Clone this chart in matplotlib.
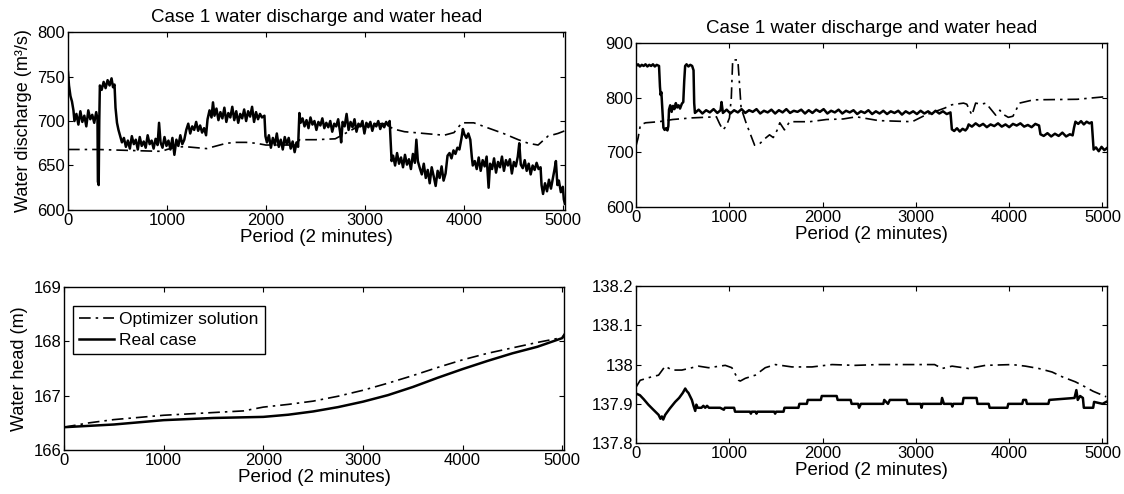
import numpy as np
import matplotlib
matplotlib.use("Agg")
import matplotlib.pyplot as plt
from matplotlib.ticker import FormatStrFormatter

# ---- top left: water discharge, case A ----
tl_real_t = [0, 10, 25, 40, 55, 65, 85, 105, 125, 145, 165, 185, 205, 225, 245, 265, 285, 298, 302, 310,
             316, 322, 340, 360, 380, 400, 420, 440, 455, 470, 480, 495, 510, 525, 545, 565, 585, 605, 625,
             645, 665, 685, 705, 725, 745, 765, 785, 805, 825, 845, 865, 885, 905, 920, 935, 955, 975, 995,
             1015, 1035, 1055, 1075, 1095, 1115, 1135, 1155, 1175, 1195, 1215, 1235, 1255, 1275, 1295, 1315,
             1335, 1355, 1375, 1395, 1410, 1430, 1450, 1465, 1480, 1500, 1520, 1540, 1560, 1580, 1600, 1620,
             1640, 1660, 1680, 1700, 1720, 1740, 1760, 1780, 1800, 1820, 1840, 1860, 1880, 1900, 1920, 1940,
             1960, 1985, 1995, 2010, 2030, 2050, 2070, 2090, 2110, 2130, 2150, 2170, 2190, 2210, 2230, 2250,
             2270, 2290, 2310, 2325, 2338, 2350, 2370, 2390, 2410, 2430, 2450, 2470, 2490, 2510, 2530, 2550,
             2570, 2590, 2610, 2630, 2650, 2670, 2690, 2710, 2730, 2750, 2760, 2775, 2795, 2815, 2835, 2855,
             2875, 2895, 2915, 2935, 2955, 2975, 2995, 3015, 3035, 3055, 3075, 3095, 3115, 3135, 3155, 3175,
             3195, 3215, 3235, 3250, 3262, 3270, 3285, 3305, 3325, 3345, 3365, 3385, 3405, 3425, 3445, 3465,
             3485, 3505, 3520, 3535, 3555, 3575, 3595, 3615, 3635, 3655, 3675, 3695, 3715, 3735, 3755, 3775,
             3795, 3815, 3835, 3855, 3875, 3895, 3915, 3935, 3955, 3975, 3990, 4005, 4025, 4045, 4065, 4080,
             4090, 4110, 4130, 4150, 4170, 4190, 4210, 4230, 4250, 4265, 4285, 4305, 4325, 4345, 4365, 4385,
             4405, 4425, 4445, 4465, 4485, 4505, 4525, 4545, 4560, 4575, 4595, 4615, 4635, 4655, 4675, 4695,
             4715, 4735, 4755, 4775, 4785, 4800, 4820, 4840, 4860, 4880, 4900, 4915, 4930, 4945, 4960, 4980,
             5000, 5010, 5020]
tl_real_q = [755, 740, 728, 722, 712, 700, 708, 696, 711, 699, 706, 694, 712, 702, 707, 698, 710, 702, 632, 628,
             700, 740, 735, 744, 737, 746, 740, 748, 738, 741, 715, 698, 690, 684, 676, 681, 671, 678, 669,
             683, 674, 679, 668, 682, 672, 677, 670, 684, 674, 678, 669, 680, 673, 698, 676, 670, 682, 672,
             678, 668, 681, 662, 679, 672, 684, 674, 679, 690, 697, 686, 694, 690, 699, 689,
             695, 687, 692, 684, 702, 712, 704, 721, 706, 714, 701, 710, 703, 715, 699, 709,
             704, 716, 701, 711, 698, 708, 703, 713, 700, 711, 705, 716, 699, 710, 702, 708,
             704, 706, 683, 676, 684, 670, 681, 673, 686, 671, 679, 668, 682, 674, 681, 669,
             677, 665, 676, 671, 709, 698, 703, 694, 701, 692, 704, 696, 700, 690, 699, 695,
             703, 692, 698, 693, 700, 688, 697, 694, 702, 687, 676, 699, 694, 708, 690, 699,
             693, 702, 688, 697, 694, 700, 686, 698, 693, 699, 689, 697, 694, 700, 691, 697,
             693, 699, 695, 700, 672, 655, 661, 650, 664, 652, 659, 648, 662, 651, 657, 646,
             663, 653, 679, 655, 647, 640, 652, 636, 645, 630, 648, 638, 627, 644, 636, 649,
             633, 641, 661, 664, 658, 667, 663, 670, 668, 680, 691, 685, 681, 686, 679, 660,
             650, 655, 646, 659, 644, 656, 649, 660, 625, 652, 646, 658, 642, 654, 648, 660,
             644, 656, 650, 657, 641, 654, 649, 660, 675, 651, 647, 656, 644, 652, 640, 650,
             645, 653, 646, 648, 628, 618, 630, 621, 634, 624, 636, 645, 655, 628, 633, 620,
             626, 612, 607]
tl_opt_t = [0, 300, 600, 900, 950, 1000, 1100, 1200, 1300, 1400, 1500, 1600, 1700, 1800, 1900, 2000, 2200,
            2300, 2340, 2500, 2700, 2800, 2900, 3000, 3100, 3200, 3290, 3400, 3600, 3800, 3900, 3980, 4100,
            4250, 4400, 4550, 4650, 4750, 4800, 4850, 4950, 5020]
tl_opt_q = [668, 668, 667, 666, 666, 668, 671, 671, 670, 669, 672, 675, 676, 676, 675, 673, 673,
            673, 679, 679, 680, 686, 692, 696, 697, 697, 691, 688, 686, 684, 687, 698, 698,
            692, 686, 679, 675, 673, 678, 683, 686, 689]

# ---- top right: water discharge, case B ----
tr_real_t = [0, 20, 40, 60, 80, 100, 120, 140, 160, 180, 200, 220, 245, 255, 262, 270, 282, 292, 305, 320,
             335, 345, 352, 365, 380, 395, 410, 425, 440, 455, 470, 490, 505, 515, 525, 540, 560, 580, 600,
             615, 622, 630, 670, 710, 750, 790, 830, 870, 905, 915, 930, 970, 1010, 1050, 1090, 1130, 1170,
             1210, 1250, 1290, 1330, 1370, 1410, 1450, 1490, 1530, 1570, 1610, 1650, 1690, 1730, 1770, 1810,
             1850, 1890, 1930, 1970, 2010, 2050, 2090, 2130, 2170, 2210, 2250, 2290, 2330, 2370, 2410, 2450,
             2490, 2530, 2570, 2610, 2650, 2690, 2730, 2770, 2810, 2850, 2890, 2930, 2970, 3010, 3050, 3090,
             3130, 3170, 3210, 3250, 3290, 3330, 3370, 3385, 3410, 3440, 3470, 3500, 3530, 3550, 3565, 3600,
             3640, 3680, 3720, 3760, 3800, 3840, 3880, 3920, 3960, 4000, 4040, 4080, 4120, 4160, 4200, 4240,
             4280, 4320, 4335, 4370, 4410, 4450, 4490, 4530, 4570, 4610, 4650, 4680, 4695, 4710, 4740, 4770,
             4800, 4830, 4860, 4885, 4895, 4905, 4930, 4960, 4990, 5020, 5050]
tr_real_q = [858, 861, 857, 860, 858, 861, 857, 860, 858, 861, 857, 860, 858, 820, 805, 810, 775, 745, 741, 744,
             740, 748, 778, 786, 774, 785, 779, 790, 782, 786, 780, 789, 792, 830, 858, 861, 857, 860, 858,
             850, 790, 772, 778, 771, 777, 773, 779, 772, 777, 792, 772, 778, 771, 777, 773, 779, 772,
             777, 774, 779, 771, 776, 773, 778, 771, 777, 773, 779, 772, 776, 774, 778, 771,
             777, 772, 778, 774, 779, 771, 776, 773, 778, 771, 776, 773, 777, 770, 775, 772,
             777, 770, 775, 771, 776, 770, 775, 772, 776, 769, 775, 771, 775, 770, 776, 771,
             775, 770, 776, 771, 775, 770, 773, 742, 739, 744, 738, 743, 740, 744, 751, 747,
             753, 748, 752, 746, 751, 748, 753, 747, 751, 746, 752, 749, 753, 747, 750, 746,
             752, 749, 733, 730, 735, 729, 734, 730, 736, 729, 733, 731, 745, 756, 752, 757,
             751, 756, 753, 755, 730, 705, 709, 702, 710, 704, 708]
tr_opt_t = [0, 20, 45, 100, 245, 390, 600, 860, 895, 930, 966, 1000, 1020, 1035, 1090, 1110, 1125, 1180, 1270,
            1320, 1380, 1430, 1470, 1510, 1540, 1590, 1645, 1860, 2040, 2220, 2360, 2600, 2960, 3100, 3310,
            3385, 3510, 3545, 3600, 3640, 3700, 3750, 3855, 3900, 3930, 3990, 4040, 4110, 4260, 4730, 5050]
tr_opt_q = [713, 726, 750, 754, 756, 760, 763, 765, 752, 741, 748, 763, 800, 869, 869, 820, 781, 753, 713,
            715, 725, 732, 727, 740, 754, 741, 756, 756, 760, 761, 765, 758, 756, 768, 781,
            787, 790, 788, 768, 790, 788, 790, 768, 777, 770, 764, 766, 790, 796, 797, 802]

# ---- bottom left: water head, case A ----
bl_opt_t = [0, 250, 500, 1000, 1500, 1800, 2000, 2250, 2500, 2750, 3000, 3250, 3500, 3750, 4000, 4250, 4500,
            4750, 5000, 5020]
bl_opt_h = [166.42, 166.5, 166.56, 166.64, 166.69, 166.72, 166.79, 166.84, 166.9, 166.99, 167.1, 167.23,
            167.37, 167.52, 167.66, 167.78, 167.88, 167.98, 168.07, 168.12]
bl_real_t = [0, 500, 1000, 1500, 2000, 2250, 2500, 2750, 3000, 3250, 3500, 3750, 4000, 4250, 4500, 4750,
             5000, 5020]
bl_real_h = [166.42, 166.47, 166.55, 166.59, 166.61, 166.65, 166.71, 166.79, 166.89, 167.01, 167.16, 167.33,
             167.49, 167.64, 167.78, 167.9, 168.06, 168.12]

# ---- bottom right: water head, case B ----
br_real_t = [0, 40, 80, 130, 180, 240, 260, 275, 290, 311, 360, 418, 460, 500, 526, 544, 560, 597, 615, 633,
             645, 660, 700, 720, 740, 760, 780, 900, 940, 950, 1050, 1060, 1220, 1230, 1240, 1280, 1290, 1300,
             1480, 1490, 1500, 1580, 1590, 1740, 1750, 1830, 1840, 1980, 1990, 2150, 2160, 2300, 2310, 2380,
             2390, 2410, 2650, 2660, 2700, 2720, 2900, 2910, 3050, 3060, 3070, 3270, 3280, 3300, 3380, 3390,
             3400, 3500, 3510, 3650, 3660, 3780, 3790, 3980, 3990, 4140, 4150, 4180, 4190, 4420, 4430, 4700,
             4720, 4735, 4760, 4790, 4800, 4900, 4910, 5000, 5040]
br_real_h = [137.926, 137.922, 137.912, 137.898, 137.886, 137.872, 137.862, 137.868, 137.86, 137.872, 137.888,
             137.905, 137.915, 137.928, 137.939, 137.932, 137.928, 137.91, 137.895, 137.882,
             137.898, 137.89, 137.89, 137.895, 137.89, 137.895, 137.89, 137.89, 137.885, 137.89, 137.89, 137.88,
             137.88, 137.875, 137.88, 137.88, 137.875, 137.88,
             137.88, 137.875, 137.88, 137.88, 137.89, 137.89, 137.9, 137.9, 137.91, 137.91, 137.92, 137.92,
             137.91, 137.91, 137.9, 137.9,
             137.89, 137.9, 137.9, 137.91, 137.9, 137.91, 137.91, 137.9, 137.9, 137.89, 137.9, 137.9, 137.915,
             137.9, 137.9, 137.893,
             137.9, 137.9, 137.915, 137.915, 137.9, 137.9, 137.89, 137.89, 137.9, 137.9, 137.91, 137.91, 137.9,
             137.9, 137.91, 137.915,
             137.935, 137.91, 137.92, 137.915, 137.89, 137.89, 137.905, 137.9, 137.905]
br_opt_t = [0, 43, 168, 240, 311, 383, 490, 669, 776, 955, 1026, 1098, 1116, 1170, 1277, 1384, 1492, 1670,
            1885, 2100, 2350, 2600, 2900, 3200, 3280, 3387, 3566, 3745, 4030, 4174, 4317, 4460, 4567, 4710,
            4800, 4900, 5040]
br_opt_h = [137.943, 137.96, 137.969, 137.973, 137.996, 137.986, 137.986, 137.996, 137.992, 137.998, 137.992,
            137.96, 137.958, 137.965, 137.973, 137.992, 138.0, 137.994, 137.994, 138.0, 137.998, 138.0, 138.0,
            138.0, 137.99, 137.996, 137.99, 137.998, 138.0, 137.996, 137.99, 137.981, 137.969, 137.956,
            137.945, 137.932, 137.918]

plt.rcParams["font.family"] = ["Liberation Sans", "DejaVu Sans"]
plt.rcParams["xtick.direction"] = "in"
plt.rcParams["ytick.direction"] = "in"
plt.rcParams["xtick.top"] = True
plt.rcParams["ytick.right"] = True
plt.rcParams["xtick.labelsize"] = 12
plt.rcParams["ytick.labelsize"] = 12
plt.rcParams["xtick.major.size"] = 3.5
plt.rcParams["ytick.major.size"] = 3.5
plt.rcParams["axes.linewidth"] = 1.0

dashdot = (0, (7, 3, 1.5, 3))
title = "Case 1 water discharge and water head"

fig = plt.figure(figsize=(11.24, 4.94), dpi=100)
ax_tl = fig.add_axes([0.0605, 0.575, 0.442, 0.360])
ax_tr = fig.add_axes([0.566, 0.581, 0.419, 0.332])
ax_bl = fig.add_axes([0.057, 0.089, 0.445, 0.330])
ax_br = fig.add_axes([0.566, 0.103, 0.419, 0.318])

ax_tl.plot(tl_opt_t, tl_opt_q, color="black", lw=1.2, ls=dashdot)
ax_tl.plot(tl_real_t, tl_real_q, color="black", lw=1.8)
ax_tl.set_xlim(0, 5020)
ax_tl.set_ylim(600, 800)
ax_tl.set_yticks(np.arange(600, 801, 50))
ax_tl.set_ylabel("Water discharge (m³/s)", fontsize=13)
ax_tl.set_title(title, fontsize=13.5, pad=7)

ax_tr.plot(tr_opt_t, tr_opt_q, color="black", lw=1.2, ls=dashdot)
ax_tr.plot(tr_real_t, tr_real_q, color="black", lw=1.8)
ax_tr.set_xlim(0, 5050)
ax_tr.set_ylim(600, 900)
ax_tr.set_yticks(np.arange(600, 901, 100))
ax_tr.set_title(title, fontsize=13.5, pad=7)

ax_bl.plot(bl_opt_t, bl_opt_h, color="black", lw=1.2, ls=dashdot, label="Optimizer solution")
ax_bl.plot(bl_real_t, bl_real_h, color="black", lw=1.8, label="Real case")
ax_bl.set_xlim(0, 5020)
ax_bl.set_ylim(166, 169)
ax_bl.set_yticks([166, 167, 168, 169])
ax_bl.set_ylabel("Water head (m)", fontsize=13)
leg = ax_bl.legend(loc="upper left", bbox_to_anchor=(0.018, 0.883), borderaxespad=0, fontsize=12.5,
                   fancybox=False, framealpha=1, edgecolor="black", handlelength=2.0,
                   handletextpad=0.3, labelspacing=0.3, borderpad=0.35)
leg.get_frame().set_linewidth(1.0)

ax_br.plot(br_opt_t, br_opt_h, color="black", lw=1.2, ls=dashdot)
ax_br.plot(br_real_t, br_real_h, color="black", lw=1.8)
ax_br.set_xlim(0, 5050)
ax_br.set_ylim(137.8, 138.2)
ax_br.set_yticks([137.8, 137.9, 138.0, 138.1, 138.2])
ax_br.yaxis.set_major_formatter(FormatStrFormatter("%g"))

for ax in (ax_tl, ax_tr, ax_bl, ax_br):
    ax.set_xticks(np.arange(0, 5001, 1000))
    ax.set_xlabel("Period (2 minutes)", fontsize=13.5, labelpad=1)
    ax.tick_params(pad=2)

fig.savefig("out.png", dpi=100)
